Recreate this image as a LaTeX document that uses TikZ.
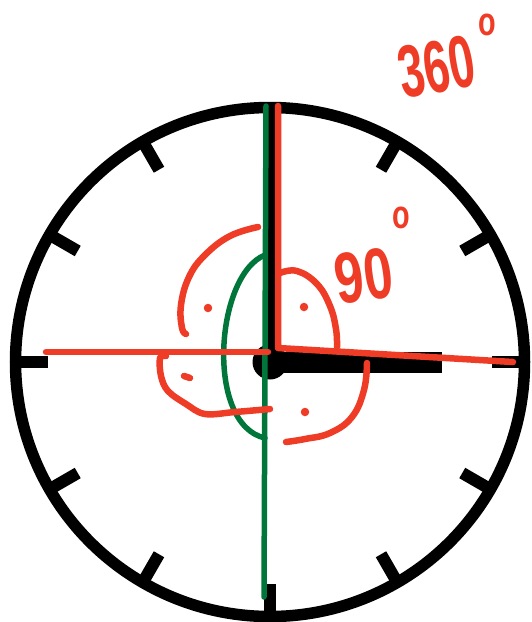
\documentclass[tikz,border=0pt]{standalone}
\usepackage{fontspec}
\setmainfont{Liberation Sans}
\newfontfamily\handnarrow[FakeStretch=0.62]{Liberation Sans}
\newfontfamily\handmid[FakeStretch=0.72]{Liberation Sans}
\definecolor{hred}{RGB}{238,60,38}
\definecolor{hgreen}{RGB}{0,118,58}
\begin{document}
\begin{tikzpicture}[x=1pt,y=-1pt,
  redpen/.style={draw=hred,line width=6.5pt,line cap=round,line join=round},
  greenpen/.style={draw=hgreen,line width=5.5pt,line cap=round,line join=round},
  tickmark/.style={draw=black,line width=12pt},
  dotmark/.style={fill=hred,circle,inner sep=0pt,minimum size=8.5pt},
  hw/.style={text=hred,inner sep=0pt}]
\useasboundingbox (0,0) rectangle (531,622);
\coordinate (c) at (270,362);
% dial
\draw[line width=11.5pt] (c) circle (254.5);
\foreach \a in {0,30,...,330}
  \draw[tickmark,shift={(c)}] (\a:222) -- (\a:252);
% hands
\coordinate (mtip) at (271,110);
\coordinate (htip) at (442,362);
\draw[line width=12pt] (c) -- (mtip);
\draw[line width=21pt] (c) -- (htip);
\fill (c) circle (17.5);
% green
\coordinate (gtop) at (266,106);
\coordinate (gbot) at (264,597);
\draw[greenpen] (gtop) -- (gbot);
\coordinate (ga) at (265,255);
\coordinate (gb) at (265,438);
\draw[greenpen] (ga) .. controls (215,275) and (205,425) .. (gb);
% red lines
\coordinate (rl) at (46,352);
\coordinate (rm) at (268,352);
\coordinate (rtop) at (278,106);
\coordinate (rcorner) at (278,348);
\coordinate (rright) at (513,362);
\draw[redpen] (rl) -- (rm);
\draw[redpen] (rtop) -- (rcorner) -- (rright);
% red angle arcs
\draw[redpen] plot[smooth,tension=0.7] coordinates {(280,273) (297,271) (317,284) (330,306) (336,329) (337,347)};
\draw[redpen] plot[smooth,tension=0.7] coordinates {(258,227) (230,236) (205,255) (189,277) (181,305) (182,328) (186,334)};
\draw[redpen] plot[smooth,tension=0.6] coordinates {(166,356) (160,358) (161,376) (168,391) (186,404) (205,414) (235,412) (270,409)};
\draw[redpen] plot[smooth,tension=0.7] coordinates {(367,363) (364,390) (352,417) (330,433) (305,439) (286,442)};
% dots
\node[dotmark] (d1) at (304,307) {};
\node[dotmark] (d2) at (208,308) {};
\node[dotmark] (d3) at (305,412) {};
\draw[redpen] (184,376) -- (190,378);
% labels
\node[hw,rotate=10,font=\handnarrow\bfseries\fontsize{74}{74}\selectfont] (t360) at (437,67) {360};
\node[hw,font=\handmid\bfseries\fontsize{40}{40}\selectfont] (o360) at (487,25) {o};
\node[hw,rotate=8,font=\handmid\bfseries\fontsize{72}{72}\selectfont] (t90) at (364,276) {90};
\node[hw,font=\handmid\bfseries\fontsize{40}{40}\selectfont] (o90) at (401,218) {o};
\end{tikzpicture}
\end{document}
